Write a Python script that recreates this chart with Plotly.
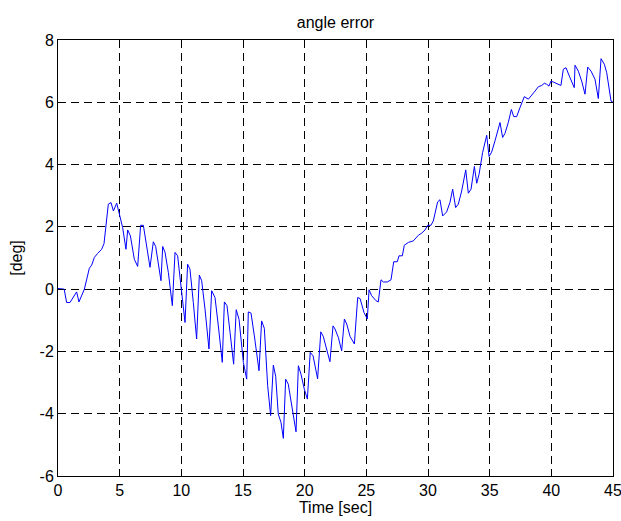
import plotly.graph_objects as go

time_s = [0, 0.5, 0.7, 0.97, 1.51, 1.70, 2.14, 2.54, 2.73, 2.95, 3.22, 3.54, 3.73, 3.89, 4.08, 4.3, 4.49, 4.76,
          5.03, 5.24, 5.51, 5.65, 5.87, 6.19, 6.46, 6.7, 6.92, 7.46, 7.73, 7.92, 8.35, 8.49, 8.68, 8.95, 9.27,
          9.49, 9.7, 9.97, 10.3, 10.51, 10.7, 10.97, 11.24, 11.46, 11.65, 11.92, 12.24, 12.46, 12.73, 13.0,
          13.32, 13.49, 13.7, 13.95, 14.24, 14.45, 14.68, 15.03, 15.3, 15.43, 15.65, 15.92, 16.3, 16.51,
          16.73, 17.0, 17.24, 17.46, 17.65, 17.86, 18.08, 18.27, 18.46, 18.67, 18.95, 19.3, 19.49, 19.7,
          19.97, 20.22, 20.45, 20.68, 21.05, 21.31, 21.51, 22.05, 22.3, 22.46, 22.73, 23.0, 23.22, 23.41,
          23.68, 24.03, 24.3, 24.49, 24.81, 25.08, 25.22, 25.43, 25.78, 25.97, 26.19, 26.38, 26.7, 27.0,
          27.22, 27.51, 27.65, 27.92, 28.08, 28.41, 28.81, 29.0, 29.22, 29.49, 29.76, 29.97, 30.24, 30.43,
          30.78, 30.97, 31.19, 31.51, 31.78, 32.0, 32.24, 32.46, 32.73, 33.06, 33.27, 33.49, 33.76, 33.95,
          34.14, 34.43, 34.76, 34.95, 35.16, 35.43, 35.84, 36.05, 36.24, 36.51, 36.76, 36.95, 37.19, 37.46,
          37.81, 38.14, 38.41, 38.68, 38.95, 39.22, 39.43, 39.62, 39.81, 39.97, 40.16, 40.43, 40.78, 40.97,
          41.19, 41.46, 41.86, 41.92, 42.19, 42.46, 42.73, 42.95, 43.22, 43.54, 43.81, 44.03, 44.3, 44.49,
          44.84, 45]

angle_err = [0.02, 0.0, -0.43, -0.43, -0.09, -0.41, 0.0, 0.67, 0.77, 1.02, 1.15, 1.28, 1.46, 2.03, 2.73, 2.78,
             2.51, 2.76, 2.35, 1.98, 1.28, 1.9, 1.71, 0.96, 0.73, 2.05, 2.05, 0.7, 1.52, 1.37, 0.27, 1.37, 1.18,
             0.53, -0.53, 1.18, 1.07, 0.11, -1.07, 0.8, 0.64, -0.43, -1.6, 0.45, 0.27, -0.64, -1.92, -0.05,
             -0.27, -1.18, -2.35, -0.41, -0.53, -1.39, -2.41, -0.66, -0.97, -2.35, -2.89, -0.73, -0.77, -1.5,
             -2.62, -1.02, -1.26, -3.1, -4.06, -2.44, -2.8, -4.01, -4.28, -4.79, -2.89, -3.05, -3.74, -4.58,
             -2.46, -2.73, -3.21, -3.53, -2.03, -2.14, -2.88, -1.37, -1.52, -2.33, -1.18, -1.28, -1.55, -1.98,
             -0.96, -1.12, -1.52, -1.76, -0.27, -0.3, -0.75, -0.96, -0.02, -0.21, -0.37, -0.41, 0.3, 0.23,
             0.23, 0.3, 0.88, 0.88, 1.07, 1.07, 1.41, 1.5, 1.55, 1.63, 1.73, 1.8, 1.9, 2.05, 2.05, 2.19,
             2.8, 2.87, 2.35, 2.48, 2.78, 3.21, 2.62, 2.73, 3.15, 3.83, 3.08, 3.21, 3.94, 3.4, 3.69, 4.39,
             4.94, 4.26, 4.4, 4.76, 5.35, 4.87, 5.0, 5.35, 5.77, 5.54, 5.54, 5.83, 6.18, 6.1, 6.22, 6.36,
             6.5, 6.54, 6.61, 6.58, 6.52, 6.68, 6.65, 6.61, 6.54, 7.06, 7.11, 6.84, 6.47, 7.19, 7.0, 6.68,
             6.26, 7.13, 7.0, 6.74, 6.12, 7.4, 7.22, 6.95, 6.04, 6.0]

x_ticks = [0, 5, 10, 15, 20, 25, 30, 35, 40, 45]
y_ticks = [8, 6, 4, 2, 0, -2, -4, -6]
y_tick_text = ["8", "6", "4", "2", "0", "-2", "-4", "-6"]

font_family = "Liberation Sans, Arial, sans-serif"
fsize = 16

fig = go.Figure()
fig.add_trace(go.Scatter(x=time_s, y=angle_err, mode="lines",
                         line=dict(color="#0000ff", width=1), showlegend=False))

axis_common = dict(
    showline=True, linecolor="black", linewidth=1, mirror="ticks",
    ticks="inside", ticklen=5, tickcolor="black",
    showgrid=True, gridcolor="black", gridwidth=1, griddash="8px,5px",
    zeroline=False, automargin=False, ticklabeloverflow="allow",
    tickfont=dict(family=font_family, size=fsize, color="black"),
)

fig.update_xaxes(range=[0, 45], tickvals=x_ticks, **axis_common,
                 title=dict(text="Time [sec]", font=dict(family=font_family, size=fsize, color="black"),
                            standoff=0))
fig.update_yaxes(range=[-6, 8], tickvals=y_ticks, ticktext=y_tick_text, **axis_common,
                 title=dict(text="[deg]", font=dict(family=font_family, size=fsize, color="black"),
                            standoff=12))

fig.update_layout(
    width=621, height=521,
    paper_bgcolor="white", plot_bgcolor="white",
    margin=dict(l=58, r=8, t=40, b=45),
    title=dict(text="angle error", x=0.5, xanchor="center", xref="paper",
               y=1, yref="container", yanchor="top", pad=dict(t=17),
               font=dict(family=font_family, size=fsize, color="black")),
)

fig.write_html("out.html", config={"displayModeBar": False},
               post_script="document.body.style.margin='0';document.body.style.overflow='hidden';")
